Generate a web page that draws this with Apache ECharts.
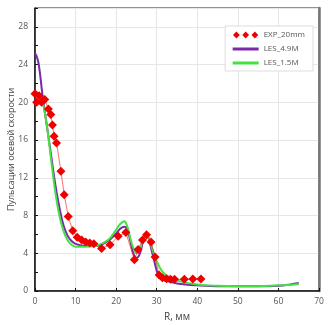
<!DOCTYPE html>
<html>
<head>
<meta charset="utf-8">
<script src="https://cdn.jsdelivr.net/npm/echarts@6/dist/echarts.min.js"></script>
<style>
  html, body { margin: 0; padding: 0; background: #fff; }
  #chart { width: 331px; height: 325px; }
</style>
</head>
<body>
<div id="chart"></div>
<script>
// EXP_20mm, точки эксперимента
const expR = [0, 0.4, 1, 1.6, 2.4, 3.3, 3.9, 4.3, 4.7, 5.3, 6.4, 7.2, 8.2, 9.3, 10.4, 11.5, 12.5, 13.5, 14.5, 16.4, 18.5, 20.5, 22.4, 24.5, 25.4, 26.5, 27.5, 28.6, 29.6, 30.6, 31.4, 32.4, 33.4, 34.4, 36.8, 38.9, 40.9];
const expU = [20.9, 20.0, 20.7, 20.0, 20.3, 19.3, 18.7, 17.6, 16.4, 15.7, 12.7, 10.2, 7.9, 6.4, 5.7, 5.4, 5.2, 5.1, 5.0, 4.5, 4.9, 5.8, 6.2, 3.3, 4.4, 5.4, 5.95, 5.2, 3.6, 1.7, 1.4, 1.3, 1.25, 1.25, 1.25, 1.27, 1.27];

// LES_4.9M
const les49R = [0, 0.3, 0.8, 1.3, 2, 3, 4, 5, 6, 7, 8, 9, 10, 12, 15, 18, 20, 21, 22, 22.7, 23.5, 24.3, 25, 25.8, 26.6, 27.3, 28, 28.7, 29.5, 30.3, 31.5, 33, 35, 40, 45, 50, 55, 60, 63, 65];
const les49U = [25.2, 25.0, 24.3, 22.8, 20.2, 17.3, 14.3, 11.3, 8.9, 7.0, 5.9, 5.3, 5.0, 4.8, 4.8, 5.3, 6.1, 6.6, 6.8, 6.6, 5.3, 3.9, 3.5, 3.9, 5.2, 6.1, 5.6, 4.4, 3.0, 1.8, 1.2, 1.0, 0.8, 0.6, 0.5, 0.5, 0.5, 0.55, 0.7, 0.85];

// LES_1.5M
const les15R = [0, 0.5, 1, 2, 3, 4, 5, 6, 7, 8, 9, 10, 12, 15, 18, 20, 21, 22, 22.7, 23.5, 24.3, 25, 25.8, 26.6, 27.3, 28, 28.8, 29.6, 30.5, 31.5, 33, 35, 40, 45, 50, 55, 60, 63, 65];
const les15U = [21.0, 21.0, 20.8, 19.8, 17.3, 13.8, 10.5, 8.0, 6.4, 5.4, 4.9, 4.7, 4.7, 4.8, 5.4, 6.5, 7.1, 7.4, 6.9, 5.6, 4.5, 4.0, 4.4, 5.3, 5.8, 5.6, 4.6, 3.6, 2.7, 2.0, 1.5, 1.1, 0.7, 0.55, 0.5, 0.5, 0.6, 0.65, 0.75];

const xTicks = {min: 0, max: 70, interval: 10};
const yTicks = {min: 0, max: 30, interval: 4};

const zip = (a, b) => a.map((v, i) => [v, b[i]]);
const font = 'Open Sans';

const chart = echarts.init(document.getElementById('chart'));
chart.setOption({
  animation: false,
  backgroundColor: '#fff',
  grid: {
    left: 35, right: 12, top: 8, bottom: 34,
    outerBoundsMode: 'none',
    show: true, borderColor: '#222', borderWidth: 1
  },
  legend: {
    right: 18, top: 26,
    orient: 'vertical',
    backgroundColor: '#fff',
    borderColor: '#ddd', borderWidth: 1,
    padding: [5, 8, 4, 6],
    itemGap: 6, itemWidth: 26, itemHeight: 7,
    textStyle: {fontFamily: font, fontSize: 8, color: '#555'},
    data: [
      {name: 'EXP_20mm', icon: 'path://M0,3.6 L3.5,0 L7,3.6 L3.5,7.2 Z M9.5,3.6 L13,0 L16.5,3.6 L13,7.2 Z M19,3.6 L22.5,0 L26,3.6 L22.5,7.2 Z', itemStyle: {color: '#ee0000'}},
      {name: 'LES_4.9M', itemStyle: {opacity: 0}, lineStyle: {width: 3}},
      {name: 'LES_1.5M', itemStyle: {opacity: 0}, lineStyle: {width: 3}}
    ]
  },
  xAxis: {
    type: 'value',
    min: xTicks.min, max: xTicks.max, interval: xTicks.interval,
    name: 'R, мм', nameLocation: 'middle', nameGap: 21,
    nameMoveOverlap: false,
    nameTextStyle: {fontFamily: font, fontSize: 10, color: '#444'},
    axisLine: {lineStyle: {color: '#111', width: 1.5}},
    axisTick: {inside: true, length: 3, lineStyle: {color: '#111'}},
    axisLabel: {fontFamily: font, fontSize: 8.5, color: '#555', margin: 6},
    splitLine: {lineStyle: {color: '#e6e6e6'}}
  },
  yAxis: [
    {
      type: 'value',
      min: yTicks.min, max: yTicks.max, interval: yTicks.interval,
      name: 'Пульсации осевой скорости', nameLocation: 'middle', nameGap: 19,
      nameMoveOverlap: false,
      nameTextStyle: {fontFamily: font, fontSize: 9, color: '#444'},
      axisLine: {lineStyle: {color: '#111', width: 1.5}},
      axisTick: {inside: true, length: 3, lineStyle: {color: '#111'}},
      minorTick: {show: true, splitNumber: 2, length: 3, lineStyle: {color: '#111'}},
      axisLabel: {fontFamily: font, fontSize: 8.5, color: '#555', margin: 7,
        formatter: v => (v > 28 ? '' : v)},
      splitLine: {lineStyle: {color: '#e6e6e6'}}
    },
    {
      type: 'value', position: 'right',
      min: yTicks.min, max: yTicks.max, interval: yTicks.interval,
      axisLine: {show: true, lineStyle: {color: '#777', width: 2.5}},
      axisTick: {show: false}, axisLabel: {show: false}, splitLine: {show: false}
    }
  ],
  series: [
    {
      name: 'LES_4.9M', type: 'line', smooth: 0.4, symbol: 'none',
      data: zip(les49R, les49U),
      lineStyle: {color: '#7a2aa6', width: 2},
      itemStyle: {color: '#7a2aa6'}, z: 3
    },
    {
      name: 'LES_1.5M', type: 'line', smooth: 0.4, symbol: 'none',
      data: zip(les15R, les15U),
      lineStyle: {color: '#44e044', width: 2},
      itemStyle: {color: '#44e044'}, z: 4
    },
    {
      name: 'EXP_20mm', type: 'line', smooth: false,
      symbol: 'diamond', symbolSize: 9,
      data: zip(expR, expU),
      lineStyle: {color: '#ee3333', width: 0.7},
      itemStyle: {color: '#ee0000'}, z: 5
    }
  ]
});
</script>
</body>
</html>
